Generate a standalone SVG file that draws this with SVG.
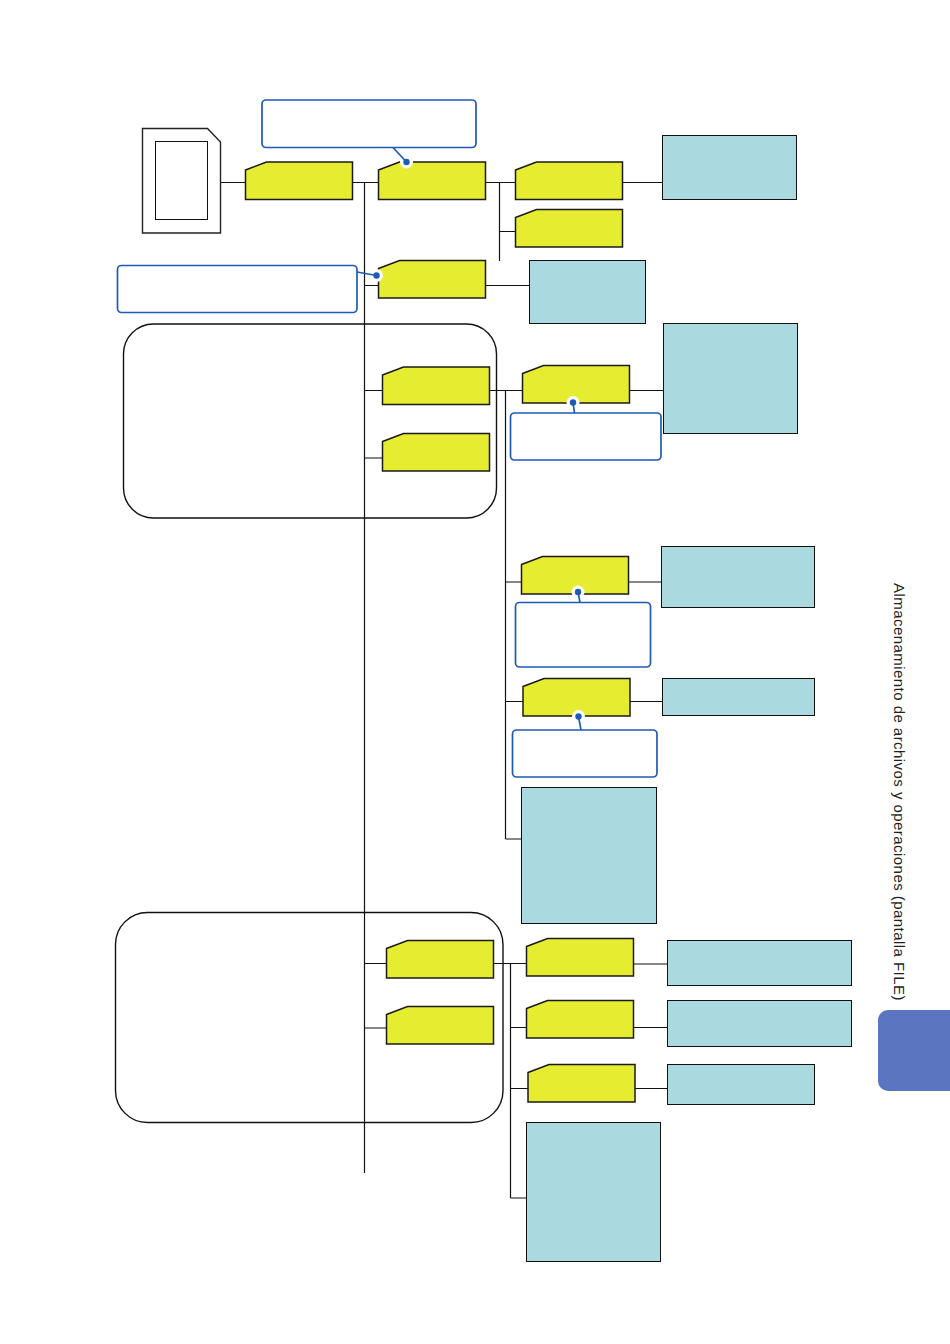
<svg xmlns="http://www.w3.org/2000/svg" width="950" height="1344" viewBox="0 0 950 1344">
<style>
.l{stroke:#111;stroke-width:1.2;fill:none}
.f{fill:#e6ec2f;stroke:#1a1a1a;stroke-width:1.5}
.b{fill:#aad9df;stroke:#111;stroke-width:1}
.c{fill:#fff;stroke:#1f5ab4;stroke-width:1.7}
.p{stroke:#1f5ab4;stroke-width:1.7;fill:none}
.h{fill:#fff}
.d{fill:#1f5ab4}
.g{fill:none;stroke:#111;stroke-width:1.4}
.t{font-family:"Liberation Sans",Arial,sans-serif;font-size:15px;letter-spacing:.45px;fill:#231f20}
</style>
<defs>
<polygon id="folder" class="f" points="0,8 21,0 107,0 107,37.5 0,37.5"/>
</defs>
<rect width="950" height="1344" fill="#fff"/>
<g id="group-upper"><rect class="g" x="123.5" y="324" width="373" height="194" rx="30"/></g>
<g id="group-lower"><rect class="g" x="115.5" y="912.5" width="387.5" height="210" rx="32"/></g>
<g id="connectors">
<path class="l" d="M220.5 182.5H245.5M352.5 182.5H378.5M364.5 182.5V1173M485.5 182.5H515.5M499.5 182.5V261M499.5 231.5H515.5M622.5 182.5H662.5"/>
<path class="l" d="M364.5 285.5H378.5M485.5 285.5H529.5M364.5 390.5H382.5M364.5 458H382.5M489.5 390.5H522.5M505.5 390.5V839M505.5 582H521.5M505.5 701.5H523M505.5 839H521.5M629.5 390.5H663.5M628.5 582H661.5M630 701.5H662.5"/>
<path class="l" d="M364.5 963.5H386.5M364.5 1028H386.5M493.5 963.5H526.5M510.5 963.5V1198M510.5 1027.5H526.5M510.5 1088.5H528M510.5 1198H526.5M633.5 964H667.5M633.5 1027.5H667.5M635 1088.5H667.5"/>
</g>
<g id="card"><polygon points="142.5,128.5 207.5,128.5 220.5,142 220.5,233 142.5,233" fill="#fff" stroke="#222" stroke-width="1.4"/><rect x="155.5" y="141.5" width="52" height="78" fill="#fff" stroke="#111" stroke-width="1"/></g>
<g id="folder-1"><use href="#folder" x="245.5" y="162"/></g>
<g id="folder-2"><use href="#folder" x="378.5" y="162"/></g>
<g id="folder-3"><use href="#folder" x="515.5" y="162"/></g>
<g id="folder-4"><use href="#folder" x="515.5" y="209.5"/></g>
<g id="folder-5"><use href="#folder" x="378.5" y="260.5"/></g>
<g id="folder-6"><use href="#folder" x="382.5" y="367"/></g>
<g id="folder-7"><use href="#folder" x="382.5" y="433.5"/></g>
<g id="folder-8"><use href="#folder" x="522.5" y="365.5"/></g>
<g id="folder-9"><use href="#folder" x="521.5" y="556.5"/></g>
<g id="folder-10"><use href="#folder" x="523" y="678.5"/></g>
<g id="folder-11"><use href="#folder" x="386.5" y="940.5"/></g>
<g id="folder-12"><use href="#folder" x="386.5" y="1006.5"/></g>
<g id="folder-13"><use href="#folder" x="526.5" y="938.5"/></g>
<g id="folder-14"><use href="#folder" x="526.5" y="1000.5"/></g>
<g id="folder-15"><use href="#folder" x="528" y="1064.5"/></g>
<g id="box-1"><rect class="b" x="662.5" y="135.5" width="134" height="64"/></g>
<g id="box-2"><rect class="b" x="529.5" y="260.5" width="116" height="63"/></g>
<g id="box-3"><rect class="b" x="663.5" y="323.5" width="134" height="110"/></g>
<g id="box-4"><rect class="b" x="661.5" y="546.5" width="153" height="61"/></g>
<g id="box-5"><rect class="b" x="662.5" y="678.5" width="152" height="37"/></g>
<g id="box-6"><rect class="b" x="521.5" y="787.5" width="135" height="136"/></g>
<g id="box-7"><rect class="b" x="667.5" y="940.5" width="184" height="45"/></g>
<g id="box-8"><rect class="b" x="667.5" y="1000.5" width="184" height="46"/></g>
<g id="box-9"><rect class="b" x="667.5" y="1064.5" width="147" height="40"/></g>
<g id="box-10"><rect class="b" x="526.5" y="1122.5" width="134" height="139"/></g>
<g id="callout-1"><circle class="h" cx="406.5" cy="162" r="6.5"/><path class="p" d="M393 147.5L406.5 162"/><circle class="d" cx="406.5" cy="162" r="3.2"/><rect class="c" x="262" y="100" width="214" height="47.5" rx="4"/></g>
<g id="callout-2"><circle class="h" cx="376.5" cy="275.5" r="6.5"/><path class="p" d="M357 272L376.5 275.5"/><circle class="d" cx="376.5" cy="275.5" r="3.2"/><rect class="c" x="117.5" y="265.5" width="239.5" height="47" rx="4"/></g>
<g id="callout-3"><circle class="h" cx="573" cy="402.5" r="6.5"/><path class="p" d="M573 402.5L574.5 413"/><circle class="d" cx="573" cy="402.5" r="3.2"/><rect class="c" x="510.5" y="413" width="150.5" height="47" rx="4"/></g>
<g id="callout-4"><circle class="h" cx="578" cy="592" r="6.5"/><path class="p" d="M578 592L580 602.5"/><circle class="d" cx="578" cy="592" r="3.2"/><rect class="c" x="515.5" y="602.5" width="135" height="64.5" rx="4"/></g>
<g id="callout-5"><circle class="h" cx="578.5" cy="716.5" r="6.5"/><path class="p" d="M578.5 716.5L581 730"/><circle class="d" cx="578.5" cy="716.5" r="3.2"/><rect class="c" x="512.5" y="730" width="144.5" height="47" rx="4"/></g>
<g id="side-tab"><path d="M950 1010H888a10 10 0 0 0 -10 10V1081a10 10 0 0 0 10 10H950Z" fill="#5b75c0"/></g>
<text class="t" transform="translate(894,583) rotate(90)">Almacenamiento de archivos y operaciones (pantalla FILE)</text>
</svg>
